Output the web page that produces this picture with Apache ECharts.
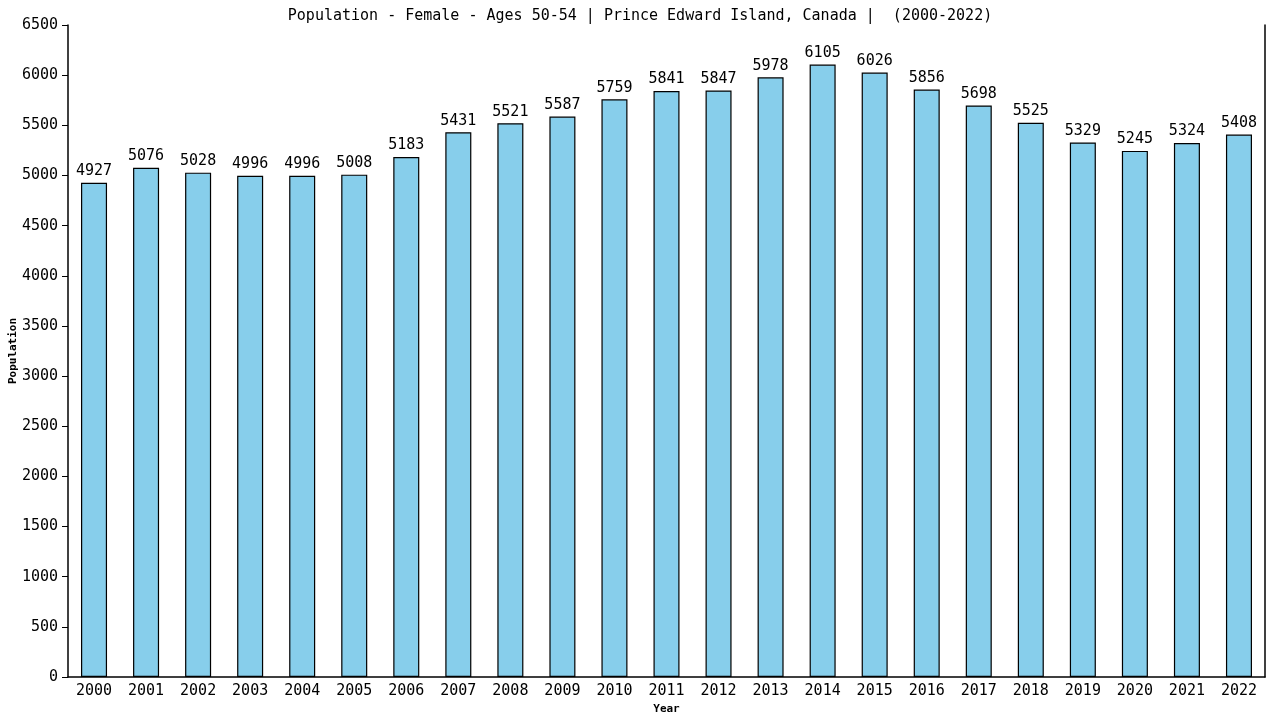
<!DOCTYPE html>
<html>
<head>
<meta charset="utf-8">
<script src="https://cdn.jsdelivr.net/npm/echarts@6/dist/echarts.min.js"></script>
<style>html,body{margin:0;padding:0;background:#fff}#c{width:1280px;height:720px}</style>
</head>
<body>
<div id="c"></div>
<script>
const titleText = 'Population - Female - Ages 50-54 | Prince Edward Island, Canada |  (2000-2022)';
const years = ['2000','2001','2002','2003','2004','2005','2006','2007','2008','2009','2010','2011','2012','2013','2014','2015','2016','2017','2018','2019','2020','2021','2022'];
const population = [4927,5076,5028,4996,4996,5008,5183,5431,5521,5587,5759,5841,5847,5978,6105,6026,5856,5698,5525,5329,5245,5324,5408];
const yMin = 0, yMax = 6500, yStep = 500;

const font = 'DejaVu Sans Mono';
const chart = echarts.init(document.getElementById('c'));
chart.setOption({
  animation: false,
  backgroundColor: '#fff',
  title: {
    text: titleText, left: 'center', top: 4,
    textStyle: { fontFamily: font, fontSize: 15, fontWeight: 'normal', color: '#000' }
  },
  grid: { left: 68, right: 15, top: 25, bottom: 43, containLabel: false, outerBoundsMode: 'none' },
  xAxis: {
    type: 'category', data: years,
    name: 'Year', nameLocation: 'middle', nameGap: 27, nameMoveOverlap: false,
    nameTextStyle: { fontFamily: font, fontSize: 11, fontWeight: 'bold', color: '#000' },
    axisLine: { lineStyle: { color: '#000', width: 1.5 } },
    axisTick: { show: false },
    axisLabel: { fontFamily: font, fontSize: 15, color: '#000', margin: 7 }
  },
  yAxis: [{
    type: 'value', min: yMin, max: yMax, interval: yStep,
    name: 'Population', nameLocation: 'middle', nameGap: 49, nameMoveOverlap: false,
    nameTextStyle: { fontFamily: font, fontSize: 11, fontWeight: 'bold', color: '#000' },
    axisLine: { show: true, lineStyle: { color: '#000', width: 1.5 } },
    axisTick: { show: true, length: 6, lineStyle: { color: '#000' } },
    axisLabel: { fontFamily: font, fontSize: 15, color: '#000', margin: 10, formatter: v => String(v) },
    splitLine: { show: false }
  }, {
    type: 'value', min: yMin, max: yMax, interval: yStep, position: 'right',
    axisLine: { show: true, lineStyle: { color: '#000', width: 1.5 } },
    axisTick: { show: false }, axisLabel: { show: false }, splitLine: { show: false }
  }],
  series: [{
    type: 'bar', data: population, barWidth: '50%',
    itemStyle: { color: '#87CEEB', borderColor: '#000', borderWidth: 1.2 },
    label: { show: true, position: 'top', distance: 4, fontFamily: font, fontSize: 15, color: '#000' }
  }]
});
</script>
</body>
</html>
